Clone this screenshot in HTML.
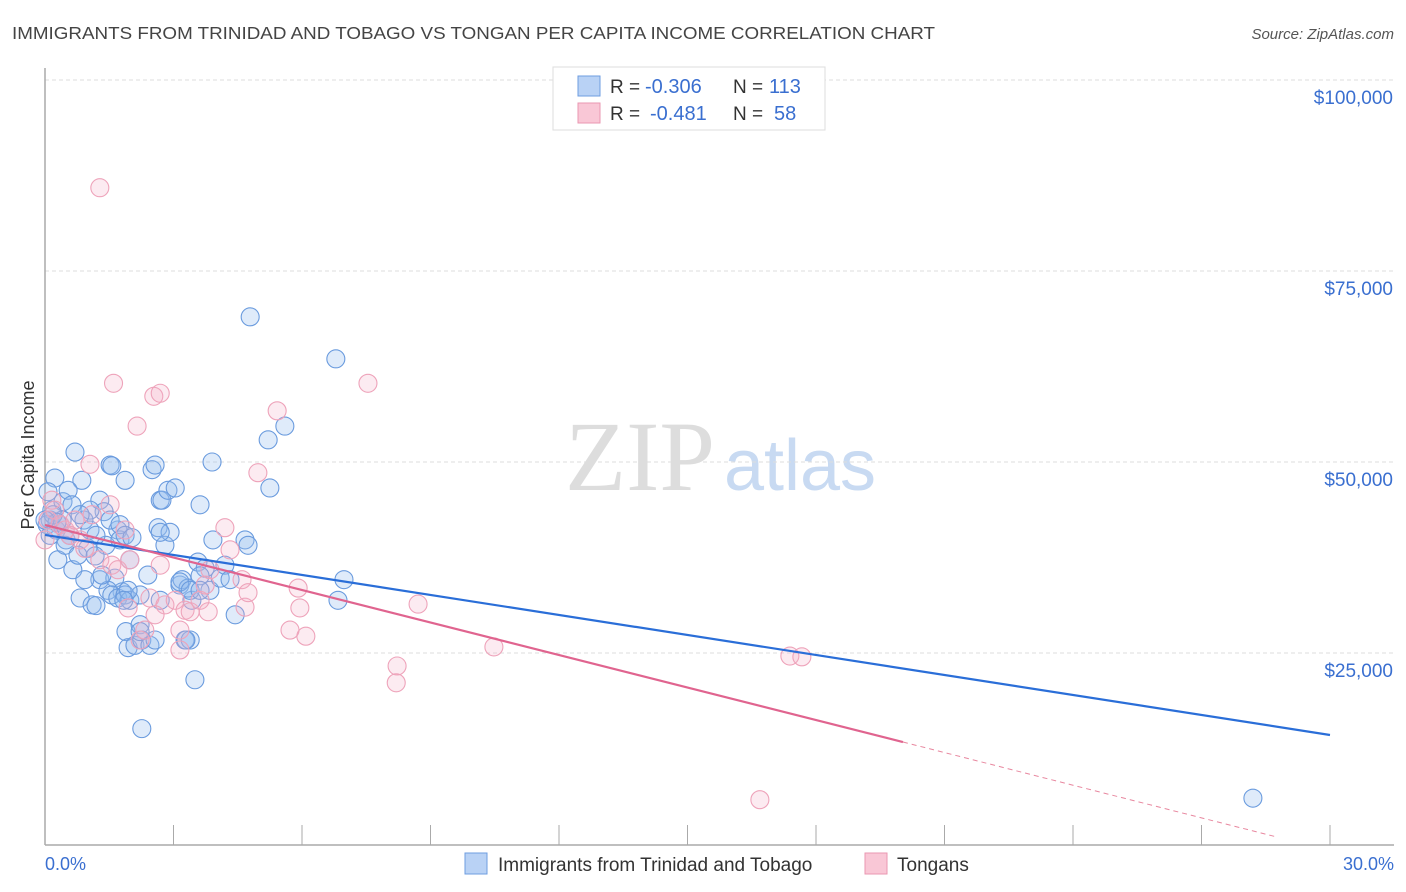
<!DOCTYPE html>
<html><head><meta charset="utf-8"><style>
body{margin:0;background:#fff;font-family:"Liberation Sans",sans-serif}
svg{display:block}
</style></head><body>
<svg width="1406" height="892" id="chart">
<text x="12" y="39" font-size="17.5" fill="#444" textLength="923" lengthAdjust="spacingAndGlyphs">IMMIGRANTS FROM TRINIDAD AND TOBAGO VS TONGAN PER CAPITA INCOME CORRELATION CHART</text>
<text x="1394" y="39" font-size="15" fill="#555" font-style="italic" text-anchor="end">Source: ZipAtlas.com</text>
<text x="640" y="490" font-size="100" fill="#ddd" font-family="Liberation Serif,serif" text-anchor="middle">ZIP</text>
<text x="800" y="490" font-size="72" fill="#c8daf2" text-anchor="middle">atlas</text>
<g id="grid"></g>
<g id="axes"></g>
<g id="marks"></g>
<text transform="translate(34,455) rotate(-90)" font-size="18" fill="#333" text-anchor="middle">Per Capita Income</text>
<text x="45" y="870" font-size="18" fill="#3a6fd0">0.0%</text>
<text x="1394" y="870" font-size="18" fill="#3a6fd0" text-anchor="end">30.0%</text>
<g>
<rect x="553" y="67" width="272" height="63" fill="#fff" stroke="#ddd"/>
<rect x="578" y="76" width="22" height="20" fill="#b9d2f5" stroke="#6e9de0"/>
<rect x="578" y="103" width="22" height="20" fill="#f9c7d6" stroke="#ea97b1"/>
<text x="610" y="93" font-size="19" fill="#333">R =</text>
<text x="645" y="93" font-size="20" fill="#3a6fd0">-0.306</text>
<text x="733" y="93" font-size="19" fill="#333">N =</text>
<text x="769" y="93" font-size="20" fill="#3a6fd0">113</text>
<text x="610" y="120" font-size="19" fill="#333">R =</text>
<text x="650" y="120" font-size="20" fill="#3a6fd0">-0.481</text>
<text x="733" y="120" font-size="19" fill="#333">N =</text>
<text x="774" y="120" font-size="20" fill="#3a6fd0">58</text>
</g>
<g>
<rect x="465" y="853" width="22" height="21" fill="#b9d2f5" stroke="#6e9de0"/>
<text x="498" y="871" font-size="19" fill="#333">Immigrants from Trinidad and Tobago</text>
<rect x="865" y="853" width="22" height="21" fill="#f9c7d6" stroke="#ea97b1"/>
<text x="897" y="871" font-size="19" fill="#333">Tongans</text>
</g>
</svg>
<script>
const yTicks=[25000,50000,75000,100000];
const yTickLabels=["$25,000","$50,000","$75,000","$100,000"];
const xTicks=[0,3,6,9,12,15,18,21,24,27,30];
const blueX=[.23,.07,.16,.12,.05,.26,.4,.49,.58,.7,.65,.82,.86,.91,1.0,1.05,1.1,1.19,1.28,1.28,1.38,1.42,1.52,1.56,1.63,1.7,1.75,1.8,1.87,1.89,1.94,1.98,2.1,2.22,2.26,2.4,2.5,2.57,2.64,2.69,2.73,2.8,2.87,2.92,3.04,3.15,3.2,3.27,3.39,3.43,3.5,3.57,3.62,3.74,3.85,3.9,3.92,4.09,4.2,4.32,4.44,4.67,4.74,4.79,5.21,5.25,5.6,6.79,6.84,6.98,28.2,.35,.42,.54,.3,.47,.77,.93,1.17,1.47,1.56,1.7,1.87,1.98,1.33,1.19,2.26,2.45,2.57,3.34,3.15,3.39,3.62,2.69,2.22,1.94,1.05,1.52,1.75,.63,.82,.19,.28,0,.12,1.87,2.03,2.22,1.84,3.29,3.62,2.69];
const blueY=[47.9,46.1,43.7,42.4,41.8,41.1,42.4,39.8,40.4,51.3,35.9,32.2,47.6,42.4,38.7,41.1,31.3,31.2,45.0,34.6,43.5,39.1,49.6,49.5,34.8,41.1,39.8,33.0,47.6,27.8,25.7,37.2,26.0,28.7,15.1,35.2,49.0,49.6,41.4,45.0,45.0,39.1,46.3,40.8,46.6,33.9,34.6,26.7,26.7,31.9,21.5,36.9,44.4,36.1,33.2,50.0,39.8,34.8,36.5,34.6,30.0,39.8,39.1,69.0,52.9,46.6,54.7,63.5,31.9,34.6,6.0,41.8,44.8,46.3,37.2,39.1,37.8,34.6,37.7,33.2,32.6,32.2,32.6,31.9,35.2,40.4,26.7,26.0,26.7,33.5,34.3,33.2,35.1,40.8,32.6,33.2,43.7,42.4,41.8,44.4,43.1,43.1,42.1,42.4,40.4,40.4,40.1,27.8,31.9,26.7,33.2,31.9];
const pinkX=[1.28,1.6,2.54,2.69,2.15,7.54,5.42,4.97,1.05,1.52,.16,.07,.23,.35,.47,.58,.7,.82,.93,1.1,1.28,1.56,1.7,1.87,1.98,1.94,2.45,2.69,2.8,3.04,3.15,3.27,3.39,3.62,3.74,3.81,3.85,4.2,4.32,4.6,4.67,4.74,5.72,5.95,6.09,5.91,8.71,8.22,8.2,10.48,17.39,17.67,16.69,2.22,2.33,3.15,2.57,0];
const pinkY=[85.9,60.3,58.6,59.0,54.7,60.3,56.7,48.6,49.7,44.4,45.0,42.4,43.7,41.8,41.1,40.4,42.4,39.8,38.7,43.1,37.2,36.5,35.9,41.1,37.2,30.9,32.2,36.5,31.3,31.9,28.0,30.6,30.4,31.9,33.9,30.4,35.9,41.4,38.5,34.6,31.0,32.9,28.0,30.9,27.2,33.5,31.4,23.3,21.1,25.8,24.6,24.5,5.8,26.7,28.0,25.4,30.0,39.8];
const blueLine=[[0,40.45],[30,14.27]];
const pinkLine=[[0,41.76],[20.03,13.35]];
const pinkDash=[[20.03,13.35],[28.7,1.0]];
const NS="http://www.w3.org/2000/svg";
const sx=p=>45+p*(1330-45)/30;
const sy=v=>844-v*191/25000;
const syk=k=>sy(k*1000);
function mk(tag,attrs,parent){const e=document.createElementNS(NS,tag);for(const k in attrs)e.setAttribute(k,attrs[k]);parent.appendChild(e);return e;}
const grid=document.getElementById('grid'),axes=document.getElementById('axes'),marks=document.getElementById('marks');
yTicks.forEach((t,i)=>{
 const l=mk('line',{x1:45,x2:1394,y1:sy(t),y2:sy(t),stroke:'#ddd','stroke-dasharray':'4,3'},grid);
 
 
 const tx=mk('text',{x:1393,y:sy(t)+24,'font-size':19,fill:'#3a6fd0','text-anchor':'end'},grid);
 tx.textContent=yTickLabels[i];
 
 
});
const ya=mk('line',{x1:45,x2:45,y1:68,y2:845,stroke:'#aaa','stroke-width':1.5},axes);


const xa=mk('line',{x1:45,x2:1394,y1:845,y2:845,stroke:'#aaa','stroke-width':1.5},axes);


xTicks.forEach(t=>{
 const l=mk('line',{x1:sx(t),x2:sx(t),y1:825,y2:845,stroke:'#aaa'},axes);
 
 
});
blueX.forEach((x,i)=>{
 const c=mk('circle',{cx:sx(x),cy:syk(blueY[i]),r:9,fill:'rgba(150,190,240,0.3)',stroke:'#6a9bde','stroke-width':1.1},marks);
 
 
});
pinkX.forEach((x,i)=>{
 const c=mk('circle',{cx:sx(x),cy:syk(pinkY[i]),r:9,fill:'rgba(245,175,198,0.25)',stroke:'#eea3ba','stroke-width':1.1},marks);
 
 
});
const bl=mk('line',{x1:sx(blueLine[0][0]),y1:syk(blueLine[0][1]),x2:sx(blueLine[1][0]),y2:syk(blueLine[1][1]),stroke:'#2a6ed8','stroke-width':2.2},marks);


const pl=mk('line',{x1:sx(pinkLine[0][0]),y1:syk(pinkLine[0][1]),x2:sx(pinkLine[1][0]),y2:syk(pinkLine[1][1]),stroke:'#e0648f','stroke-width':2.2},marks);


const pd=mk('line',{x1:sx(pinkDash[0][0]),y1:syk(pinkDash[0][1]),x2:sx(pinkDash[1][0]),y2:syk(pinkDash[1][1]),stroke:'#e8879f','stroke-width':1,'stroke-dasharray':'5,4'},marks);


</script>
</body></html>
